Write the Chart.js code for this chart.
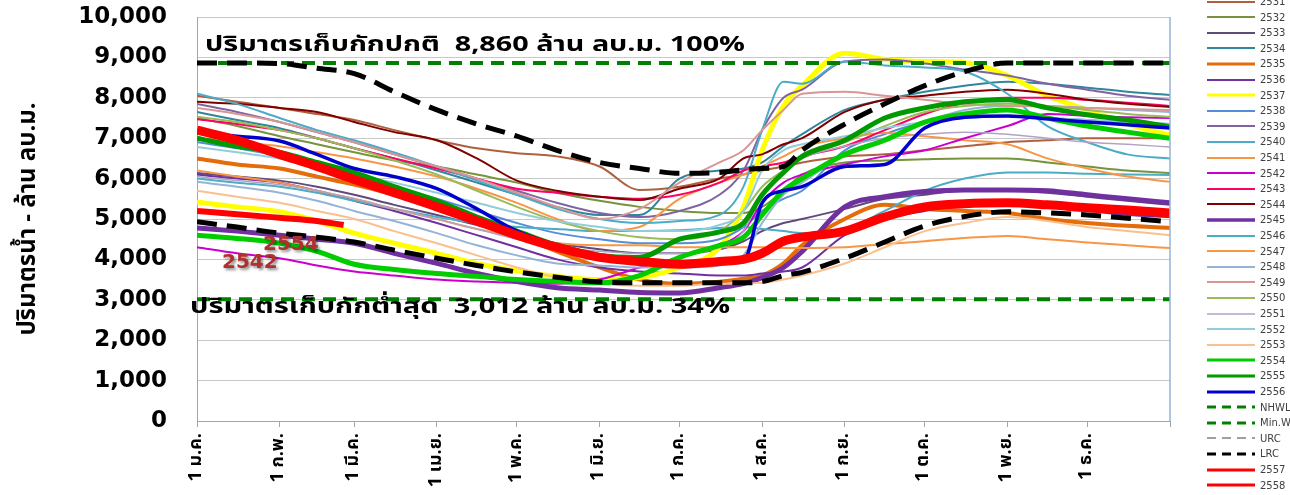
<!DOCTYPE html>
<html>
<head>
<meta charset="utf-8">
<script src="https://cdn.jsdelivr.net/npm/chart.js@4.4.0/dist/chart.umd.min.js"></script>
<style>
body { margin: 0; background: #fff; width: 1290px; height: 495px; overflow: hidden; position: relative; }
#legend { position: absolute; left: 1205px; top: 0; width: 85px; height: 495px; }
.item { position: absolute; left: 0; height: 12px; display: flex; align-items: center; font: 10px "DejaVu Sans", sans-serif; color: #404040; white-space: nowrap; }
.item svg { margin-right: 3px; }
</style>
</head>
<body>
<canvas id="storageChart" width="1290" height="495"></canvas>
<div id="legend"></div>
<script>
// day of year for each reading (0 = 1 ม.ค.)
const days = [0, 15, 31, 45, 59, 74, 90, 105, 120, 135, 151, 166, 181, 196, 205, 212, 220, 227, 243, 258, 273, 288, 304, 319, 334, 349, 365];
const days2558 = [0, 15, 31, 45, 55];
const limitDays = [0, 365];

// month ticks
const monthDays = [0, 31, 59, 90, 120, 151, 181, 212, 243, 273, 304, 334, 365];
const monthLabels = ['1 ม.ค.', '1 ก.พ.', '1 มี.ค.', '1 เม.ย.', '1 พ.ค.', '1 มิ.ย.', '1 ก.ค.', '1 ส.ค.', '1 ก.ย.', '1 ต.ค.', '1 พ.ย.', '1 ธ.ค.', ''];
const yTicks = [0, 1000, 2000, 3000, 4000, 5000, 6000, 7000, 8000, 9000, 10000];

// storage, million m3
const s2531 = [8050, 7900, 7750, 7600, 7450, 7200, 6950, 6750, 6630, 6550, 6300, 5720, 5800, 6000, 6100, 6200, 6300, 6400, 6550, 6600, 6700, 6800, 6900, 6950, 7000, 7000, 7000];
const s2532 = [7500, 7300, 7050, 6850, 6650, 6450, 6300, 6100, 5900, 5650, 5450, 5300, 5200, 5150, 5150, 5300, 5700, 6100, 6400, 6450, 6480, 6500, 6500, 6400, 6300, 6200, 6140];
const s2533 = [6140, 6050, 5950, 5800, 5600, 5350, 5100, 4850, 4600, 4400, 4250, 4150, 4150, 4250, 4450, 4700, 4900, 5000, 5250, 5500, 5600, 5700, 5700, 5650, 5550, 5450, 5350];
const s2534 = [7650, 7450, 7250, 7000, 6750, 6500, 6200, 5900, 5600, 5300, 5100, 5100, 6000, 6200, 6250, 6400, 6800, 7100, 7700, 7950, 8150, 8300, 8400, 8350, 8250, 8150, 8070];
const s2535 = [6500, 6350, 6250, 6050, 5850, 5600, 5300, 5000, 4600, 4200, 3800, 3500, 3400, 3450, 3520, 3600, 3900, 4350, 5000, 5350, 5250, 5200, 5150, 5000, 4900, 4830, 4780];
const s2536 = [6100, 6000, 5900, 5700, 5450, 5200, 4900, 4600, 4300, 4000, 3800, 3700, 3650, 3600, 3600, 3650, 3700, 3800, 4600, 5000, 5200, 5350, 5400, 5300, 5200, 5100, 5050];
const s2537 = [5420, 5300, 5180, 4950, 4650, 4400, 4150, 3900, 3720, 3580, 3500, 3550, 3800, 4300, 5300, 6700, 7800, 8300, 9100, 8950, 8900, 8870, 8550, 8050, 7700, 7350, 7080];
const s2538 = [6900, 6750, 6550, 6300, 6050, 5800, 5500, 5200, 4900, 4650, 4500, 4400, 4400, 4500, 4800, 5200, 5500, 5700, 6700, 7100, 7400, 7500, 7550, 7500, 7450, 7400, 7350];
const s2539 = [7850, 7650, 7400, 7150, 6900, 6600, 6300, 6000, 5700, 5400, 5150, 5050, 5200, 5600, 6200, 7200, 8000, 8200, 8900, 8950, 8850, 8700, 8550, 8350, 8200, 8050, 7950];
const s2540 = [6000, 5900, 5800, 5650, 5450, 5250, 5050, 4900, 4800, 4750, 4700, 4700, 4720, 4780, 4800, 4750, 4700, 4650, 4750, 5200, 5700, 6000, 6150, 6150, 6120, 6100, 6090];
const s2541 = [7000, 6900, 6800, 6650, 6500, 6300, 6050, 5750, 5400, 5000, 4700, 4800, 5500, 5900, 6100, 6300, 6550, 6780, 7000, 7130, 7050, 6950, 6850, 6500, 6250, 6050, 5920];
const s2542 = [4300, 4150, 4030, 3850, 3700, 3600, 3500, 3450, 3420, 3400, 3500, 3800, 4050, 4350, 4700, 5400, 5900, 6100, 6350, 6550, 6700, 7000, 7300, 7600, 7550, 7520, 7500];
const s2543 = [7470, 7350, 7200, 7000, 6750, 6500, 6250, 6000, 5750, 5650, 5550, 5500, 5600, 5900, 6200, 6300, 6400, 6550, 6800, 7200, 7600, 7870, 8000, 8000, 7950, 7880, 7800];
const s2544 = [7900, 7850, 7750, 7650, 7400, 7150, 6950, 6500, 5950, 5700, 5550, 5470, 5750, 6000, 6500, 6600, 6850, 7000, 7650, 7950, 8050, 8150, 8200, 8100, 7950, 7850, 7770];
const s2545 = [4780, 4700, 4600, 4500, 4400, 4150, 3900, 3650, 3450, 3300, 3240, 3180, 3170, 3300, 3400, 3550, 3800, 4200, 5300, 5550, 5680, 5720, 5720, 5700, 5600, 5500, 5400];
const s2546 = [8100, 7850, 7500, 7200, 6950, 6650, 6300, 5950, 5600, 5250, 5000, 4900, 4950, 5100, 5800, 7200, 8400, 8350, 8900, 8800, 8750, 8650, 8100, 7300, 6900, 6600, 6500];
const s2547 = [6200, 6050, 5900, 5700, 5500, 5250, 5000, 4750, 4550, 4400, 4350, 4350, 4300, 4300, 4300, 4300, 4280, 4280, 4300, 4380, 4450, 4530, 4580, 4500, 4420, 4350, 4280];
const s2548 = [5920, 5800, 5650, 5450, 5200, 4950, 4650, 4350, 4100, 3900, 3850, 3800, 3800, 3850, 4100, 4900, 5600, 5900, 6600, 7000, 7400, 7700, 7800, 7800, 7750, 7700, 7650];
const s2549 = [7750, 7600, 7400, 7150, 6900, 6600, 6300, 6000, 5650, 5300, 5000, 5250, 5900, 6400, 6700, 7200, 7700, 8100, 8150, 8050, 7950, 7850, 7800, 7780, 7750, 7720, 7700];
const s2550 = [7530, 7400, 7200, 7000, 6750, 6450, 6100, 5700, 5300, 4950, 4700, 4550, 4500, 4700, 5200, 5800, 6200, 6500, 6900, 7300, 7650, 7800, 7850, 7800, 7700, 7600, 7530];
const s2551 = [6050, 5950, 5850, 5700, 5500, 5250, 5000, 4750, 4500, 4300, 4200, 4150, 4150, 4300, 4700, 5600, 6200, 6500, 6800, 7000, 7100, 7150, 7100, 7000, 6900, 6850, 6780];
const s2552 = [6780, 6650, 6500, 6300, 6100, 5900, 5650, 5400, 5150, 4950, 4800, 4700, 4700, 4850, 5200, 6200, 6700, 6850, 7050, 7250, 7400, 7500, 7550, 7500, 7450, 7400, 7350];
const s2553 = [5700, 5550, 5400, 5200, 5000, 4700, 4400, 4100, 3800, 3550, 3400, 3350, 3350, 3400, 3400, 3420, 3500, 3600, 3900, 4300, 4700, 4900, 5050, 4950, 4800, 4700, 4600];
const s2554 = [4600, 4520, 4400, 4200, 3880, 3750, 3650, 3580, 3500, 3450, 3420, 3600, 4050, 4350, 4550, 5100, 5700, 6000, 6600, 6950, 7400, 7600, 7700, 7500, 7300, 7150, 7000];
const s2555 = [7000, 6800, 6650, 6400, 6150, 5800, 5450, 5050, 4700, 4350, 4100, 4050, 4500, 4680, 4900, 5600, 6150, 6550, 6950, 7500, 7750, 7900, 7950, 7750, 7580, 7450, 7280];
const s2556 = [7150, 7050, 6930, 6600, 6250, 6050, 5750, 5250, 4700, 4350, 4020, 3930, 3920, 3900, 3950, 5400, 5700, 5800, 6300, 6350, 7250, 7520, 7550, 7480, 7400, 7330, 7250];
const s2557 = [7200, 6950, 6600, 6300, 5980, 5650, 5300, 4950, 4600, 4300, 4050, 3950, 3880, 3950, 4000, 4150, 4450, 4550, 4700, 5050, 5300, 5380, 5400, 5350, 5280, 5220, 5150];
const s2558 = [5200, 5120, 5030, 4950, 4850];
const nhwl = [8860, 8860];
const minWl = [3012, 3012];
const urc = [8860, 8860, 8850, 8730, 8600, 8150, 7700, 7350, 7050, 6700, 6400, 6250, 6130, 6150, 6220, 6250, 6300, 6700, 7350, 7850, 8300, 8650, 8860, 8860, 8860, 8860, 8860];
const lrc = [4930, 4800, 4650, 4550, 4430, 4230, 4030, 3850, 3690, 3560, 3440, 3420, 3420, 3420, 3420, 3450, 3600, 3680, 4030, 4430, 4830, 5060, 5180, 5150, 5100, 5020, 4930];

// label, x values, y values, colour, width, dash
const series = [
    ['2531', days, s2531, '#b0603f', 2],
    ['2532', days, s2532, '#77933c', 2],
    ['2533', days, s2533, '#604a7b', 2],
    ['2534', days, s2534, '#31859c', 2],
    ['2535', days, s2535, '#e46c0a', 4],
    ['2536', days, s2536, '#7030a0', 2],
    ['2537', days, s2537, '#ffff00', 5],
    ['2538', days, s2538, '#558ed5', 2],
    ['2539', days, s2539, '#8064a2', 2],
    ['2540', days, s2540, '#4bacc6', 2],
    ['2541', days, s2541, '#f79646', 2],
    ['2542', days, s2542, '#cc00cc', 2],
    ['2543', days, s2543, '#ff0066', 2],
    ['2544', days, s2544, '#800000', 2],
    ['2545', days, s2545, '#7030a0', 5],
    ['2546', days, s2546, '#4bacc6', 2],
    ['2547', days, s2547, '#f79646', 2],
    ['2548', days, s2548, '#95b3d7', 2],
    ['2549', days, s2549, '#d99694', 2],
    ['2550', days, s2550, '#9bbb59', 2],
    ['2551', days, s2551, '#b3a2c7', 1.5],
    ['2552', days, s2552, '#93cddd', 2],
    ['2553', days, s2553, '#fac090', 2],
    ['2554', days, s2554, '#00cc00', 5],
    ['2555', days, s2555, '#009900', 5],
    ['2556', days, s2556, '#0000cc', 3.5],
    ['NHWL', limitDays, nhwl, '#008000', 4, [13, 8]],
    ['Min.Wl', limitDays, minWl, '#008000', 4, [13, 8]],
    ['URC', days, urc, '#000000', 5, [20, 10]],
    ['LRC', days, lrc, '#000000', 5, [20, 10]],
    ['2557', days, s2557, '#ff0000', 9],
    ['2558', days2558, s2558, '#ff0000', 6]
];

const datasets = series.map(([label, xs, ys, color, width, dash], i) => ({
    label: label,
    data: ys.map((v, j) => ({ x: xs[j], y: v })),
    borderColor: color,
    backgroundColor: color,
    borderWidth: width,
    borderDash: dash || [],
    borderCapStyle: 'butt',
    pointRadius: 0,
    fill: false,
    cubicInterpolationMode: 'monotone',
    order: -i
}));

const thaiFont = 'Tahoma, "Noto Sans Thai", Loma, Garuda, "DejaVu Sans", sans-serif';

// draw text stretched to a given width
function fitText(ctx, text, x, y, width) {
    const w = ctx.measureText(text).width;
    ctx.save();
    ctx.translate(x, y);
    ctx.scale(width / w, 1);
    ctx.fillText(text, 0, 0);
    ctx.restore();
}

// text notes on the plot + right frame
const notesPlugin = {
    id: 'notes',
    afterDatasetsDraw(chart) {
        const { ctx, chartArea } = chart;
        ctx.save();
        ctx.strokeStyle = '#95b3d7';
        ctx.lineWidth = 1.5;
        ctx.beginPath();
        ctx.moveTo(chartArea.right, chartArea.top);
        ctx.lineTo(chartArea.right, chartArea.bottom);
        ctx.stroke();

        ctx.fillStyle = '#000';
        ctx.textBaseline = 'middle';
        ctx.font = 'bold 21px ' + thaiFont;
        fitText(ctx, 'ปริมาตรเก็บกักปกติ  8,860 ล้าน ลบ.ม. 100%', 205, 47, 540);
        fitText(ctx, 'ปริมาตรเก็บกักต่ำสุด  3,012 ล้าน ลบ.ม. 34%', 190, 309, 540);

        ctx.font = 'bold 20px "DejaVu Sans", sans-serif';
        ctx.fillStyle = '#b03030';
        ctx.shadowColor = 'rgba(0,0,0,0.45)';
        ctx.shadowBlur = 3;
        ctx.shadowOffsetX = 2;
        ctx.shadowOffsetY = 2;
        ctx.fillText('2554', 263, 245);
        ctx.fillText('2542', 222, 263);
        ctx.restore();
    }
};

const ctx = document.getElementById('storageChart').getContext('2d');
new Chart(ctx, {
    type: 'line',
    data: { datasets: datasets },
    options: {
        responsive: false,
        animation: false,
        devicePixelRatio: 1,
        layout: { padding: { top: 17, right: 120, left: 0, bottom: 0 } },
        plugins: { legend: { display: false }, tooltip: { enabled: false } },
        scales: {
            x: {
                type: 'linear',
                min: 0,
                max: 365,
                afterBuildTicks: s => { s.ticks = monthDays.map(v => ({ value: v })); },
                afterFit: s => { s.height = 74; s.paddingLeft = 0; s.paddingRight = 0; },
                ticks: {
                    minRotation: 90,
                    maxRotation: 90,
                    autoSkip: false,
                    padding: 6,
                    color: '#000',
                    font: { family: thaiFont, size: 18, weight: 'bold' },
                    callback: v => monthLabels[monthDays.indexOf(v)]
                },
                grid: { drawOnChartArea: false, tickLength: 6, color: '#a6a6a6' },
                border: { color: '#a6a6a6' }
            },
            y: {
                min: 0,
                max: 10000,
                afterBuildTicks: s => { s.ticks = yTicks.map(v => ({ value: v })); },
                afterFit: s => { s.width = 197; s.paddingTop = 0; s.paddingBottom = 0; },
                ticks: {
                    padding: 30,
                    color: '#000',
                    font: { family: '"DejaVu Sans", sans-serif', size: 23, weight: 'bold' },
                    callback: v => v.toLocaleString('en-US')
                },
                grid: { color: '#c8c8c8', drawTicks: false },
                border: { color: '#a6a6a6' },
                title: {
                    display: true,
                    text: 'ปริมาตรน้ำ - ล้าน ลบ.ม.',
                    color: '#000',
                    padding: { top: 16, bottom: 0 },
                    font: { family: thaiFont, size: 24, weight: 'bold' }
                }
            }
        }
    },
    plugins: [notesPlugin]
});

// legend on the right
const legend = document.getElementById('legend');
const legendWidth = { '2537': 3, '2545': 3.5, '2554': 3, '2555': 3, '2556': 3, '2557': 3, '2558': 3, 'URC': 1.5 };
series.forEach(([label, , , color, width, dash], i) => {
    const item = document.createElement('div');
    item.className = 'item';
    item.style.top = (1.5 + 15.6 * i - 6) + 'px';
    const lw = legendWidth[label] || Math.min(width, 3);
    const lineColor = label === 'URC' ? '#808080' : color;
    const dashAttr = dash ? ' stroke-dasharray="9,6"' : '';
    item.innerHTML = '<svg width="52" height="8"><line x1="2" y1="4" x2="50" y2="4" stroke="' + lineColor +
        '" stroke-width="' + lw + '"' + dashAttr + '/></svg><span>' + label + '</span>';
    legend.appendChild(item);
});
</script>
</body>
</html>
